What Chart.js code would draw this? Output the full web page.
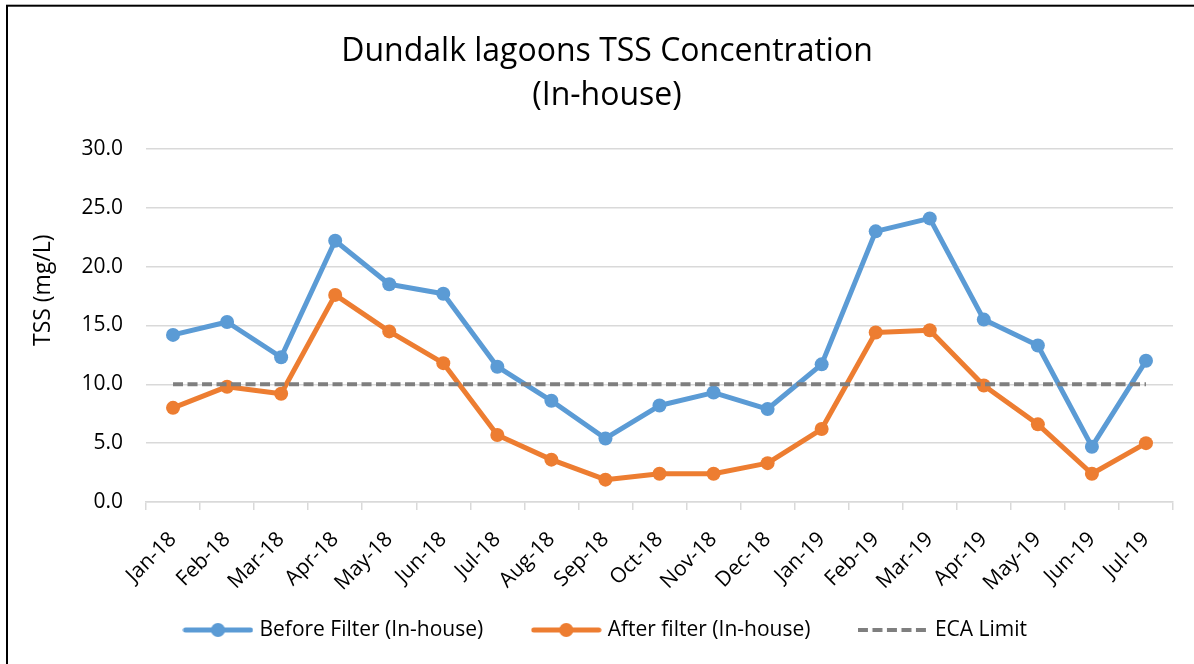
<!DOCTYPE html>
<html>
<head>
<meta charset="utf-8">
<script src="https://cdn.jsdelivr.net/npm/chart.js@4.4.1/dist/chart.umd.min.js"></script>
<style>
  html, body { margin: 0; padding: 0; background: #fff; overflow: hidden; }
  #wrap { position: absolute; left: 0; top: 0; width: 1214px; height: 680px; }
  canvas { display: block; }
</style>
</head>
<body>
<div id="wrap"><canvas id="chart" width="1214" height="680"></canvas></div>
<script>
// Monthly sampling periods
const months = ['Jan-18', 'Feb-18', 'Mar-18', 'Apr-18', 'May-18', 'Jun-18', 'Jul-18', 'Aug-18', 'Sep-18', 'Oct-18',
                'Nov-18', 'Dec-18', 'Jan-19', 'Feb-19', 'Mar-19', 'Apr-19', 'May-19', 'Jun-19', 'Jul-19'];

// TSS (mg/L) measured in-house
const beforeFilter = [14.2, 15.3, 12.3, 22.2, 18.5, 17.7, 11.5, 8.6, 5.4, 8.2, 9.3, 7.9, 11.7, 23.0, 24.1, 15.5, 13.3, 4.7, 12.0];
const afterFilter  = [8.0, 9.8, 9.2, 17.6, 14.5, 11.8, 5.7, 3.6, 1.9, 2.4, 2.4, 3.3, 6.2, 14.4, 14.6, 9.9, 6.6, 2.4, 5.0];

// Emission limit value (mg/L)
const ecaLimit = [10, 10, 10, 10, 10, 10, 10, 10, 10, 10, 10, 10, 10, 10, 10, 10, 10, 10, 10];

// Axis ticks
const yTicks = { min: 0, max: 30, step: 5 };

const seriesNames = ['Before Filter (In-house)', 'After filter (In-house)', 'ECA Limit'];
const BLUE = '#5B9BD5', ORANGE = '#ED7D31', GREY = '#7F7F7F', GRID = '#D9D9D9';
const FONT = '"Open Sans", "Liberation Sans", sans-serif';

// Legend swatches: line with a circle marker, or a dashed line
function swatch(color, dashed) {
  const c = document.createElement('canvas');
  c.width = 71; c.height = 18;
  const g = c.getContext('2d');
  g.strokeStyle = color;
  g.lineWidth = dashed ? 4 : 5;
  g.lineCap = dashed ? 'butt' : 'round';
  if (dashed) g.setLineDash([10, 4.5]);
  g.beginPath();
  g.moveTo(dashed ? 0 : 3, 9);
  g.lineTo(dashed ? 71 : 68, 9);
  g.stroke();
  if (!dashed) {
    g.fillStyle = color;
    g.beginPath();
    g.arc(35.5, 9, 7, 0, Math.PI * 2);
    g.fill();
  }
  return c;
}
const swatches = [swatch(BLUE, false), swatch(ORANGE, false), swatch(GREY, true)];

// White background and outer frame
const framePlugin = {
  id: 'frame',
  beforeDraw(chart) {
    const { ctx, width, height } = chart;
    ctx.save();
    ctx.fillStyle = '#fff';
    ctx.fillRect(0, 0, width, height);
    ctx.strokeStyle = '#000';
    ctx.lineWidth = 2;
    ctx.strokeRect(7, 5.7, width - 14, height);
    ctx.restore();
  }
};

// Vertical axis title
const yTitlePlugin = {
  id: 'yTitle',
  afterDraw(chart) {
    const { ctx, chartArea } = chart;
    ctx.save();
    ctx.translate(43, chartArea.top + (chartArea.bottom - chartArea.top) * 0.4);
    ctx.rotate(-Math.PI / 2);
    ctx.font = '23px ' + FONT;
    ctx.fillStyle = '#000';
    ctx.textAlign = 'center';
    ctx.textBaseline = 'middle';
    ctx.fillText('TSS (mg/L)', 0, 0);
    ctx.restore();
  }
};

const lineStyle = (color) => ({
  borderColor: color,
  backgroundColor: color,
  borderWidth: 5,
  borderCapStyle: 'round',
  borderJoinStyle: 'round',
  pointRadius: 7,
  pointHoverRadius: 7,
  pointBorderWidth: 0,
  pointBackgroundColor: color,
  tension: 0,
  fill: false
});

const ITEM_GAP = '\u2002\u2002\u2002\u2002';

new Chart(document.getElementById('chart'), {
  type: 'line',
  data: {
    labels: months,
    datasets: [
      Object.assign({ label: seriesNames[0], data: beforeFilter, order: 2 }, lineStyle(BLUE)),
      Object.assign({ label: seriesNames[1], data: afterFilter, order: 1 }, lineStyle(ORANGE)),
      {
        label: seriesNames[2], data: ecaLimit, order: 0,
        borderColor: GREY, backgroundColor: GREY, borderWidth: 4,
        borderDash: [10, 4.5], pointRadius: 0, pointHoverRadius: 0, fill: false
      }
    ]
  },
  plugins: [framePlugin, yTitlePlugin],
  options: {
    responsive: false,
    devicePixelRatio: 1,
    animation: false,
    layout: { padding: { left: 41, right: 41, top: 0, bottom: 29.5 } },
    plugins: {
      tooltip: { enabled: false },
      title: {
        display: true,
        text: ['Dundalk lagoons TSS Concentration', '(In-house)'],
        color: '#000',
        font: { family: FONT, size: 32, weight: 'normal', lineHeight: 1.4 },
        padding: { top: 29, bottom: 30.4 }
      },
      legend: {
        position: 'bottom',
        labels: {
          color: '#000',
          font: { family: FONT, size: 21 },
          usePointStyle: true,
          pointStyleWidth: 62,
          padding: 10,
          generateLabels(chart) {
            const items = Chart.defaults.plugins.legend.labels.generateLabels(chart);
            items.sort((a, b) => a.datasetIndex - b.datasetIndex);
            const last = items.length - 1;
            items.forEach((it, i) => {
              it.pointStyle = swatches[it.datasetIndex];
              if (i < last) it.text = it.text + ITEM_GAP;
            });
            return items;
          }
        }
      }
    },
    scales: {
      x: {
        offset: true,
        afterFit(scale) { scale.height = 107.5; },
        grid: {
          offset: true,
          drawOnChartArea: false,
          drawTicks: true,
          tickLength: 8,
          color: GRID,
          lineWidth: 1.5
        },
        border: { display: true, color: GRID, width: 1.5 },
        ticks: {
          color: '#000',
          font: { family: FONT, size: 21 },
          minRotation: 45,
          maxRotation: 45,
          autoSkip: false,
          padding: 17
        }
      },
      y: {
        min: yTicks.min,
        max: yTicks.max,
        afterFit(scale) { scale.width = 105; },
        grid: { color: GRID, lineWidth: 1.5, drawTicks: false },
        border: { display: false },
        ticks: {
          stepSize: yTicks.step,
          color: '#000',
          font: { family: FONT, size: 21 },
          padding: 23,
          callback: (v) => Number(v).toFixed(1)
        }
      }
    }
  }
});
</script>
</body>
</html>
